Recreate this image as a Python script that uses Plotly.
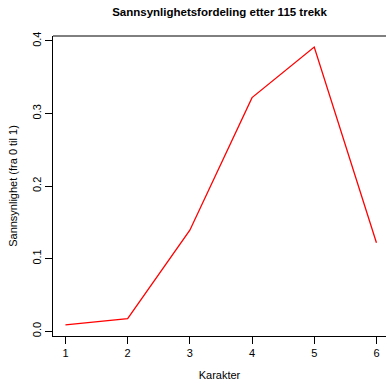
import plotly.graph_objects as go

karakter = [1, 2, 3, 4, 5, 6]
antall = [1, 2, 16, 37, 45, 14]
trekk = 115
sannsynlighet = [a / trekk for a in antall]

x_ticks = [1, 2, 3, 4, 5, 6]
y_ticks = [0.0, 0.1, 0.2, 0.3, 0.4]
y_ticklabels = ["0.0", "0.1", "0.2", "0.3", "0.4"]

font = "Liberation Sans, Arial, Helvetica, sans-serif"

fig = go.Figure()
fig.add_trace(go.Scatter(
    x=karakter, y=sannsynlighet, mode="lines",
    line=dict(color="#ff0000", width=1.3),
    hoverinfo="skip", showlegend=False,
))

fig.update_layout(
    width=386, height=381,
    margin=dict(l=53, r=0, t=36, b=45),
    paper_bgcolor="white", plot_bgcolor="white",
    font=dict(family=font, size=11, color="black"),
    title=dict(text="<b>Sannsynlighetsfordeling etter 115 trekk</b>",
               x=0.5, xref="paper", xanchor="center", y=1 - 12 / 381, yanchor="middle",
               font=dict(size=11.5, family=font, color="black")),
    xaxis=dict(range=[0.8, 0.8 + 333 / 62.2], tickvals=x_ticks,
               ticktext=[str(v) for v in x_ticks],
               showgrid=False, zeroline=False, showline=True, linecolor="black", linewidth=1,
               ticks="outside", ticklen=7, tickcolor="black", tickwidth=1,
               tickfont=dict(size=11), fixedrange=True,
               title=dict(text="Karakter", font=dict(size=11), standoff=14)),
    yaxis=dict(range=[-0.0066, 0.4066], tickvals=y_ticks, ticktext=y_ticklabels,
               tickangle=-90,
               showgrid=False, zeroline=False, showline=True, linecolor="black", linewidth=1,
               ticks="outside", ticklen=7, tickcolor="black", tickwidth=1,
               tickfont=dict(size=11), fixedrange=True,
               title=dict(text="Sannsynlighet (fra 0 til 1)", font=dict(size=11), standoff=10)),
    shapes=[dict(type="line", xref="paper", yref="paper", x0=0, x1=1, y0=1, y1=1,
                 line=dict(color="black", width=1))],
)

fig.write_html("out.html", config={"displayModeBar": False},
               post_script="document.body.style.margin='0';document.body.style.overflow='hidden';")
